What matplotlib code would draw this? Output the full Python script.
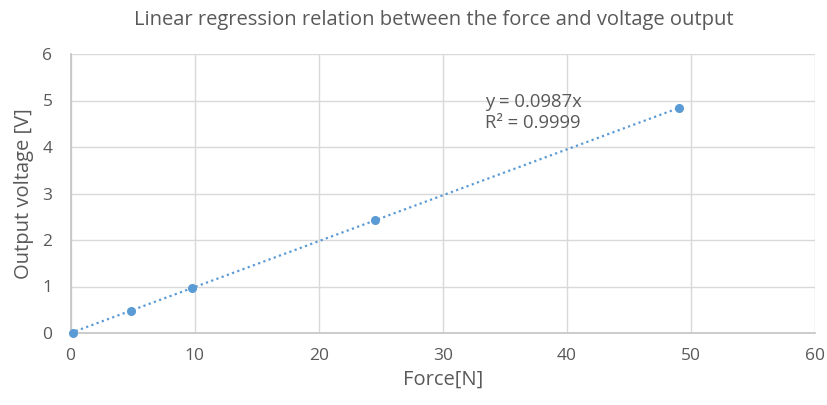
import numpy as np
import matplotlib
matplotlib.use("Agg")
from matplotlib import pyplot as plt

# measured force [N] vs output voltage [V]
force = [0.2, 4.9, 9.8, 24.5, 49.0]
voltage = [0.0, 0.48, 0.96, 2.43, 4.83]
slope = 0.0987
r_squared = 0.9999

plt.rcParams['font.family'] = ['Open Sans', 'DejaVu Sans']
text_col = '#595959'
blue = '#5b9bd5'

fig = plt.figure(figsize=(8.27, 4.05), dpi=100)
ax = fig.add_axes([70.5/827, 72/405, 744.5/827, 279/405])

# trendline through the origin, then the points on top
xfit = np.array([0.0, max(force)])
ax.plot(xfit, slope*xfit, linestyle=(0, (1, 1.5)), color=blue, lw=1.6, zorder=2)
ax.plot(force, voltage, 'o', color=blue, ms=5.5, zorder=3, clip_on=False)

ax.set_xlim(0, 60)
ax.set_ylim(0, 6)
ax.set_xticks(range(0, 61, 10))
ax.set_yticks(range(0, 7))
ax.grid(True, color='#d9d9d9', lw=1)
ax.set_axisbelow(True)
for s in ['top', 'right']:
    ax.spines[s].set_visible(False)
for s in ['bottom', 'left']:
    ax.spines[s].set_color('#c4c4c4')
    ax.spines[s].set_linewidth(1.2)
ax.tick_params(length=0, labelsize=12.5, colors=text_col)
ax.tick_params(axis='x', pad=11)
ax.tick_params(axis='y', pad=13)

ax.set_xlabel("Force[N]", fontsize=14.5, color=text_col, labelpad=4)
ax.set_ylabel("Output voltage [V]", fontsize=14.5, color=text_col, labelpad=6)
fig.text(434/827, 1 - 20/405,
         "Linear regression relation between the force and voltage output",
         fontsize=14.5, color=text_col, ha='center', va='center')

ax.text(33.4, 4.74, "y = {:.4f}x\nR\u00b2 = {:.4f}".format(slope, r_squared),
        fontsize=13.3, color=text_col, linespacing=1.2, va='center')

fig.savefig("out.png", dpi=100)
